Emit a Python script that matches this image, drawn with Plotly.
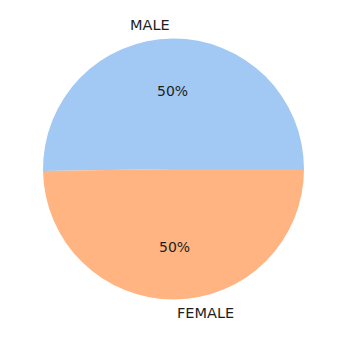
import numpy as np
import plotly.graph_objects as go

labels = ["MALE", "FEMALE"]
values = [50.25, 49.75]
colors = ["#a1c9f4", "#ffb482"]

W, H = 352, 345
cx, cy, R = 173.5, 169.0, 130.5  # pie centre / radius in pixels

vals = np.array(values, dtype=float)
fr = vals / vals.sum()
ends = np.cumsum(fr) * 360.0
starts = ends - fr * 360.0
mids = np.deg2rad((starts + ends) / 2)

# first wedge starts at 3 o'clock and runs counterclockwise (matplotlib style);
# in plotly's counterclockwise mode the rotation anchors the first wedge's far end
rot = 90 - ends[0]

fig = go.Figure(go.Pie(
    labels=labels, values=values, sort=False, direction="counterclockwise",
    rotation=rot, textinfo="none", hoverinfo="label+percent",
    marker=dict(colors=colors, line=dict(width=0)), showlegend=False,
    domain=dict(x=[(cx - R) / W, (cx + R) / W], y=[1 - (cy + R) / H, 1 - (cy - R) / H]),
))

font = dict(family="DejaVu Sans", size=14, color="#1e1e1e")
for lab, f, a in zip(labels, fr, mids):
    lx = cx + 1.1 * R * np.cos(a)
    ly = cy - 1.1 * R * np.sin(a)
    fig.add_annotation(x=lx / W, y=1 - ly / H, xref="paper", yref="paper",
                       text=lab, showarrow=False, font=dict(font, size=14.5),
                       xanchor="right" if np.cos(a) < 0 else "left", yanchor="middle")
    px = cx + 0.6 * R * np.cos(a)
    py = cy - 0.6 * R * np.sin(a)
    fig.add_annotation(x=px / W, y=1 - py / H, xref="paper", yref="paper",
                       text=f"{round(f*100):.0f}%", showarrow=False, font=font,
                       xanchor="center", yanchor="middle")

fig.update_layout(width=W, height=H, margin=dict(l=0, r=0, t=0, b=0),
                  paper_bgcolor="white", plot_bgcolor="white")
fig.write_html("out.html")
